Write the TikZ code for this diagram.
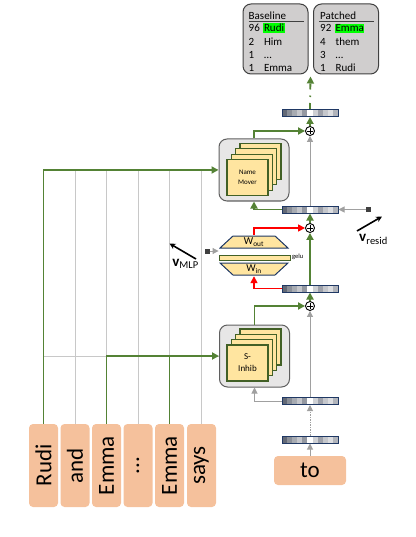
\documentclass[tikz,border=0pt]{standalone}
\usepackage{fontspec}
\setmainfont{Carlito}
\usetikzlibrary{arrows.meta,calc}
\definecolor{grn}{RGB}{84,130,53}
\definecolor{tokfill}{RGB}{245,193,156}
\definecolor{cardfill}{RGB}{255,229,160}
\definecolor{cardline}{RGB}{66,96,38}
\definecolor{boxfill}{RGB}{231,230,230}
\definecolor{boxline}{RGB}{95,95,95}
\definecolor{navy}{RGB}{31,56,100}
\definecolor{cellc}{RGB}{60,68,84}
\definecolor{gridgray}{RGB}{200,200,200}
\definecolor{arrgray}{RGB}{160,160,160}
\definecolor{topfill}{RGB}{208,206,206}
\definecolor{topline}{RGB}{64,64,64}
\definecolor{hl}{RGB}{0,255,0}
\definecolor{sqgray}{RGB}{64,64,64}
\begin{document}
\begin{tikzpicture}[x=1pt,y=-1pt,
  tok/.style={fill=tokfill, rounded corners=4pt, minimum width=29pt, minimum height=83pt, inner sep=0pt, font=\fontsize{23}{26}\selectfont},
  tokh/.style={tok, minimum width=72pt, minimum height=29pt},
  outer/.style={draw=boxline, fill=boxfill, line width=1pt, rounded corners=8pt, minimum width=70pt, minimum height=62pt, inner sep=0pt},
  card/.style={draw=cardline, fill=cardfill, line width=1.2pt, minimum width=41pt, minimum height=36pt, inner sep=0pt, align=center},
  bar/.style={draw=navy, line width=1pt, minimum width=56pt, minimum height=7pt, inner sep=0pt, fill=white,
    path picture={
      \foreach \g [count=\i from 0] in {80,60,45,30,55,0,25,50,30,18,40}{
        \fill[cellc!\g!white] ($(path picture bounding box.north west)!{\i/11}!(path picture bounding box.north east)$) rectangle ($(path picture bounding box.south west)!{(\i+1)/11}!(path picture bounding box.south east)$);
      }
    }},
  plus/.style={circle, draw=black, line width=0.9pt, fill=white, minimum size=9pt, inner sep=0pt,
    path picture={
      \draw[line width=0.6pt] ($(path picture bounding box.center)+(-2.6,0)$) -- ++(5.2,0);
      \draw[line width=0.6pt] ($(path picture bounding box.center)+(0,-2.6)$) -- ++(0,5.2);
    }},
  gl/.style={draw=gridgray, line width=1pt},
  gline/.style={draw=grn, line width=1.8pt},
  ga/.style={gline, -{Triangle[length=7pt,width=7pt]}},
  gy/.style={draw=arrgray, line width=1pt, -{Triangle[length=6pt,width=6pt]}},
  ra/.style={draw=red, line width=1.5pt, -{Triangle[length=7pt,width=7pt]}},
  blk/.style={draw=black, line width=1.6pt, -{Stealth[length=6pt,width=6pt]}},
  sq/.style={fill=sqgray, minimum size=5pt, inner sep=0pt},
  res/.style={draw=topline, fill=topfill, line width=1pt, rounded corners=8pt, minimum width=65pt, minimum height=70pt, inner sep=0pt},
  rowt/.style={anchor=base west, inner sep=0pt, font=\fontsize{11}{12}\selectfont},
  hlt/.style={rowt, fill=hl, inner xsep=0.6pt, inner ysep=1.2pt},
  mlpw/.style={minimum width=70pt, minimum height=14pt, inner sep=0pt, font=\fontsize{10.5}{10.5}\selectfont},
]
\useasboundingbox (0,0) rectangle (415,537);

% tokens
\node[tok] (t1) at (43.5,465.5) {\rotatebox{90}{Rudi}};
\node[tok] (t2) at (75,465.5) {\rotatebox{90}{and}};
\node[tok] (t3) at (106.5,465.5) {\rotatebox{90}{Emma}};
\node[tok] (t4) at (138,465.5) {\rotatebox{90}{...}};
\node[tok] (t5) at (169.5,465.5) {\rotatebox{90}{Emma}};
\node[tok] (t6) at (201.5,465.5) {\rotatebox{90}{says}};
\node[tokh] (to) at (310,470.5) {to};

% heads
\node[outer] (nm) at (254,170) {};
\node[outer] (si) at (254.5,356) {};
\foreach \k in {3,2,1}{
  \node[card] (nm\k) at ({247.5+4.33*\k},{177.5-5.33*\k}) {};
  \node[card] (si\k) at ({247.5+4.33*\k},{363-5.33*\k}) {};
}
\node[card, font=\fontsize{7}{9.5}\selectfont] (nm0) at (247.5,177.5) {Name\\Mover};
\node[card, font=\fontsize{9}{12}\selectfont] (si0) at (247.5,363) {S-\\Inhib};

% MLP
\node[mlpw, path picture={
  \fill[cardfill] ($(path picture bounding box.north west)+(14,1)$) -- ($(path picture bounding box.north east)+(-14,1)$) -- ($(path picture bounding box.south east)+(-1,-1)$) -- ($(path picture bounding box.south west)+(1,-1)$) -- cycle;
  \draw[navy, line width=1pt] ($(path picture bounding box.north west)+(14,1)$) -- ($(path picture bounding box.north east)+(-14,1)$) -- ($(path picture bounding box.south east)+(-1,-1)$) -- ($(path picture bounding box.south west)+(1,-1)$) -- cycle;
}] (wout) at (254,242) {$\mathrm{W}_{\mathrm{out}}$};
\node[mlpw, path picture={
  \fill[cardfill] ($(path picture bounding box.north west)+(1,1)$) -- ($(path picture bounding box.north east)+(-1,1)$) -- ($(path picture bounding box.south east)+(-14,-1)$) -- ($(path picture bounding box.south west)+(14,-1)$) -- cycle;
  \draw[navy, line width=1pt] ($(path picture bounding box.north west)+(1,1)$) -- ($(path picture bounding box.north east)+(-1,1)$) -- ($(path picture bounding box.south east)+(-14,-1)$) -- ($(path picture bounding box.south west)+(14,-1)$) -- cycle;
}] (win) at (254,269) {$\mathrm{W}_{\mathrm{in}}$};
\node[draw=cardline, fill=cardfill, line width=0.9pt, minimum width=71pt, minimum height=5pt, inner sep=0pt] (gelu) at (254.5,257.5) {};
\node[anchor=base west, inner sep=0pt, font=\fontsize{6.5}{7}\selectfont] (gelut) at (292,258.5) {gelu};

% residual vectors and sums
\node[bar] (bA) at (310,439.5) {};
\node[bar] (bB) at (310,401) {};
\node[bar] (bC) at (310,288.5) {};
\node[bar] (bD) at (310,209.5) {};
\node[bar] (bE) at (310,113) {};
\node[plus] (c3) at (310,306) {};
\node[plus] (c2) at (310,228) {};
\node[plus] (c1) at (310,131) {};
\node[sq] (rsq) at (368.5,209.5) {};
\node[sq] (msq) at (207,251) {};

% grid lines
\foreach \t in {t1,t2,t3,t4,t5,t6}
  \draw[gl] (\t.north) -- (\t.north |- nm.west);
\draw[gl] (t1.north |- nm.west) -- (nm.west);
\draw[gl] (t1.north |- si.west) -- (si.west);

% green token paths
\draw[ga] (t1.north) |- (nm.west);
\draw[gline] (t5.north) -- (t5.north |- si.west);
\draw[ga] (t3.north) |- (si.west);

% residual stream
\draw[gy] (to.north) -- (bA.south);
\draw[gy, dash pattern=on 2pt off 1.2pt on 0.6pt off 1.2pt] (bA.north) -- (bB.south);
\draw[gy] (bB.north) -- (c3.south);
\draw[gy] (bB.west) -| (si.south);
\draw[ga] (si.north) |- (c3.west);
\draw[ga] (c3.north) -- (bC.south);
\draw[ra] (bC.west) -| (win.south);
\draw[ga] (bC.north) -- (c2.south);
\draw[ra] (wout.north) |- (c2.west);
\draw[ga] (c2.north) -- (bD.south);
\draw[ga] (bD.west) -| (nm.south);
\draw[gy] (bD.north) -- (c1.south);
\draw[ga] (nm.north) |- (c1.west);
\draw[ga] (c1.north) -- (bE.south);
\draw[gy] (rsq.west) -- (bD.east);
\draw[gy] (msq.east) -- (msq -| gelu.west);

% output
\node[res] (base) at (275.5,39) {};
\node[res] (patch) at (346,39) {};
\coordinate (out) at (310.5,76.5);
\draw[ga, dash pattern=on 6pt off 6pt on 1.5pt off 6pt] (bE.north) -- (out);

\node[rowt] (bh) at (248.5,19.3) {Baseline};
\draw[topline, line width=0.8pt] (bh.base west |- 0,21.6) -- ($(base.east |- 0,21.6)+(-5,0)$);
\node[rowt] (bn1) at (248.5,31.8) {96};
\node[hlt] (bw1) at (263.2,31.8) {Rudi};
\node[rowt] (bn2) at (248.5,45.2) {2};
\node[rowt] (bw2) at (263.8,45.2) {Him};
\node[rowt] (bn3) at (248.5,58.6) {1};
\node[rowt] (bw3) at (263.8,58.6) {…};
\node[rowt] (bn4) at (248.5,72) {1};
\node[rowt] (bw4) at (263.8,72) {Emma};

\node[rowt] (ph) at (320,19.3) {Patched};
\draw[topline, line width=0.8pt] ($(ph.base west |- 0,21.6)+(-1,0)$) -- ($(patch.east |- 0,21.6)+(-5,0)$);
\node[rowt] (pn1) at (320,31.8) {92};
\node[hlt] (pw1) at (334.8,31.8) {Emma};
\node[rowt] (pn2) at (320,45.2) {4};
\node[rowt] (pw2) at (335.4,45.2) {them};
\node[rowt] (pn3) at (320,58.6) {3};
\node[rowt] (pw3) at (335.4,58.6) {…};
\node[rowt] (pn4) at (320,72) {1};
\node[rowt] (pw4) at (335.4,72) {Rudi};

% direction vectors
\coordinate (vr0) at (357,231);
\coordinate (vr1) at (382,216.5);
\draw[blk] (vr0) -- (vr1);
\node[font=\fontsize{15}{15}\selectfont, inner sep=0pt] (vrl) at (373.5,239.5) {$\mathbf{v}_{\mathrm{resid}}$};
\coordinate (vm0) at (196,259);
\coordinate (vm1) at (169.5,243.5);
\draw[blk] (vm0) -- (vm1);
\node[font=\fontsize{15}{15}\selectfont, inner sep=0pt] (vml) at (185.5,264) {$\mathbf{v}_{\mathrm{MLP}}$};
\end{tikzpicture}
\end{document}
